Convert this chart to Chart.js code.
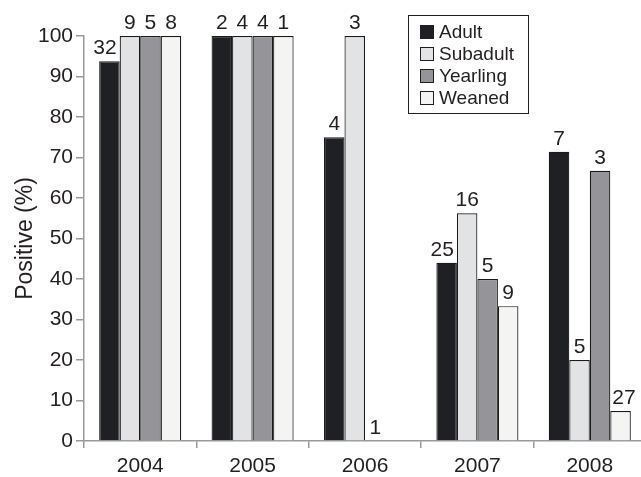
<!DOCTYPE html>
<html>
<head>
<meta charset="utf-8">
<script src="https://cdn.jsdelivr.net/npm/chart.js@4/dist/chart.umd.min.js"></script>
<style>
  html,body{margin:0;padding:0;background:#fff;overflow:hidden;}
  #wrap{width:646px;height:477px;}
</style>
</head>
<body>
<div id="wrap"><canvas id="c"></canvas></div>
<script>
/* ---------- data ---------- */
const years      = ['2004','2005','2006','2007','2008'];
const groups     = ['Adult','Subadult','Yearling','Weaned'];
const adult      = [93.75, 100, 75, 44, 71.4];
const subadult   = [100, 100, 100, 56.25, 20];
const yearling   = [100, 100, 0, 40, 66.7];
const weaned     = [100, 100, null, 33.3, 7.4];
// sample sizes printed above each bar
const adultN     = [32, 2, 4, 25, 7];
const subadultN  = [9, 4, 3, 16, 5];
const yearlingN  = [5, 4, 1, 5, 3];
const weanedN    = [8, 1, null, 9, 27];
const yTicks     = [0,10,20,30,40,50,60,70,80,90,100];

/* ---------- style ---------- */
const font   = '"Liberation Sans", Arial, Helvetica, sans-serif';
const ink    = '#231f20';
const axisC  = '#9a9a9a';
const fills  = ['#1f2024','#e2e3e5','#959499','#f4f5f3'];

const series = [adult, subadult, yearling, weaned];
const counts = [adultN, subadultN, yearlingN, weanedN];

/* n labels above bars; wide labels lean away from a taller neighbour */
const countLabels = {
  id:'countLabels',
  afterDatasetsDraw(chart){
    const ctx = chart.ctx;
    const metas = chart.data.datasets.map((d,i)=>chart.getDatasetMeta(i).data);
    ctx.save();
    ctx.font = `21px ${font}`;
    ctx.fillStyle = ink;
    ctx.textAlign = 'center';
    ctx.textBaseline = 'middle';
    chart.data.datasets.forEach((ds,i)=>{
      metas[i].forEach((bar,j)=>{
        const n = counts[i][j];
        if(n==null || ds.data[j]==null) return;
        const txt = String(n), w = ctx.measureText(txt).width;
        let x = bar.x;
        if(w > bar.width - 2){
          const next = series[i+1] ? series[i+1][j] : null;
          const prev = series[i-1] ? series[i-1][j] : null;
          if(next!=null && next > ds.data[j])      x = bar.x + bar.width/2 - 3 - w/2;
          else if(prev!=null && prev > ds.data[j]) x = bar.x - bar.width/2 + 2 + w/2;
        }
        ctx.fillText(txt, x, bar.y - 13);
      });
    });
    ctx.restore();
  }
};

/* boxed legend inside plot */
const boxLegend = {
  id:'boxLegend',
  afterDraw(chart, args, o){
    const ctx = chart.ctx;
    ctx.save();
    ctx.strokeStyle = ink; ctx.lineWidth = 1;
    ctx.fillStyle = '#fff';
    ctx.fillRect(o.x, o.y, o.w, o.h);
    ctx.strokeRect(o.x+0.5, o.y+0.5, o.w, o.h);
    ctx.font = `19px ${font}`;
    ctx.textBaseline = 'middle';
    chart.data.datasets.forEach((ds,i)=>{
      const cy = o.y + 17 + i*22;
      ctx.fillStyle = ds.backgroundColor;
      ctx.fillRect(o.x+12, cy-7, 14, 14);
      ctx.strokeRect(o.x+12.5, cy-6.5, 13, 13);
      ctx.fillStyle = ink;
      ctx.fillText(ds.label, o.x+31, cy+1);
    });
    ctx.restore();
  }
};

new Chart(document.getElementById('c'),{
  type:'bar',
  data:{
    labels:years,
    datasets:groups.map((g,i)=>({
      label:g,
      data:series[i],
      backgroundColor:fills[i],
      borderColor:'#1a1a1a',
      borderWidth:c=>c.raw ? 1.2 : 0,
      categoryPercentage:0.73,
      barPercentage:1
    }))
  },
  plugins:[countLabels, boxLegend],
  options:{
    responsive:true, maintainAspectRatio:false, animation:false,
    layout:{padding:{top:36,right:0,left:0,bottom:0}},
    plugins:{
      legend:{display:false},
      tooltip:{enabled:false},
      boxLegend:{x:408, y:15, w:120, h:98}
    },
    scales:{
      x:{
        afterFit:s=>{ s.height = 36; },
        grid:{display:true, offset:true, drawOnChartArea:false, tickLength:7, color:axisC, lineWidth:1.5},
        border:{color:axisC, width:1.5},
        ticks:{font:{family:font, size:21}, color:ink, padding:6}
      },
      y:{
        min:0, max:100,
        afterFit:s=>{ s.width = 84; },
        afterBuildTicks:s=>{ s.ticks = yTicks.map(v=>({value:v})); },
        grid:{display:true, drawOnChartArea:false, tickLength:8, color:axisC, lineWidth:1.5},
        border:{color:axisC, width:1.5},
        ticks:{font:{family:font, size:21}, color:ink, padding:3},
        title:{display:true, text:'Positive (%)', font:{family:font, size:23}, color:ink, padding:{top:12,bottom:0}}
      }
    }
  }
});
</script>
</body>
</html>
